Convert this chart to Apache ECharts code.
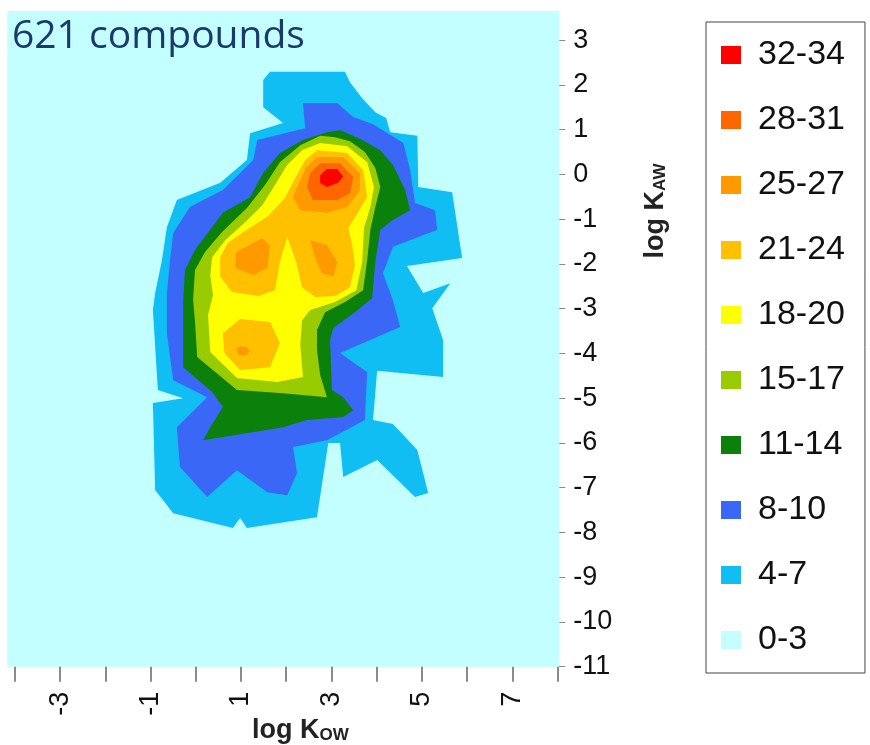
<!DOCTYPE html>
<html><head><meta charset="utf-8">
<script src="https://cdn.jsdelivr.net/npm/echarts@6/dist/echarts.min.js"></script>
<style>html,body{margin:0;padding:0;background:#fff}#c{width:870px;height:745px}</style>
</head><body><div id="c"></div>
<script>
// ---- data (values in axis units: x = log Kow, y = log Kaw) ----
const levelNames = ['32-34','28-31','25-27','21-24','18-20','15-17','11-14','8-10','4-7','0-3'];
const levelColors = ['#FF0000','#FF6600','#FF9900','#FFC000','#FFFF00','#99CC00','#0B800B','#3A67F5','#10BEF4','#C4FFFF'];
const xTickValues = [-4,-3,-2,-1,0,1,2,3,4,5,6,7,8];
const xLabelValues = [-3,-1,1,3,5,7];
const yTickValues = [-11,-10,-9,-8,-7,-6,-5,-4,-3,-2,-1,0,1,2,3];

const band4to7 = [[[1.49,2.11],[1.64,2.29],[3.30,2.29],[3.41,2.06],[3.68,1.70],[3.97,1.39],[4.21,1.26],[4.30,0.94],[4.90,0.86],[4.92,-0.28],[5.67,-0.40],[5.89,-1.87],[4.67,-2.05],[5.03,-2.65],[5.63,-2.43],[5.23,-2.99],[5.47,-3.70],[5.47,-4.53],[4.01,-4.39],[3.92,-5.49],[4.36,-5.58],[4.90,-6.16],[5.14,-7.12],[4.85,-7.21],[4.01,-6.38],[3.26,-6.76],[3.19,-6.00],[2.93,-6.00],[2.68,-7.66],[1.13,-7.90],[0.98,-7.68],[0.82,-7.90],[-0.50,-7.57],[-0.90,-7.05],[-0.95,-5.11],[-0.28,-5.00],[-0.84,-4.82],[-0.95,-3.03],[-0.90,-2.65],[-0.75,-1.92],[-0.64,-1.18],[-0.42,-0.57],[0.54,-0.19],[1.13,0.32],[1.20,0.92],[1.93,1.15],[1.49,1.50]]];
const band8to10 = [[[2.37,1.59],[3.13,1.59],[3.48,1.28],[3.92,1.12],[4.59,0.70],[4.74,0.10],[4.85,-0.64],[5.29,-0.80],[5.34,-1.24],[4.36,-1.62],[4.14,-2.21],[4.36,-2.81],[4.52,-3.41],[3.19,-3.99],[3.79,-4.42],[3.74,-5.49],[2.90,-5.94],[2.15,-6.09],[2.24,-6.67],[2.02,-7.17],[1.58,-7.10],[0.91,-6.61],[0.25,-7.21],[-0.35,-6.54],[-0.42,-5.65],[0.25,-4.98],[-0.50,-4.60],[-0.64,-3.55],[-0.64,-2.65],[-0.57,-1.92],[-0.50,-1.31],[-0.13,-0.73],[0.60,-0.35],[1.27,0.32],[1.36,0.77],[2.42,1.03]]];
const band11to14 = [[[2.90,0.94],[3.19,0.99],[3.68,0.77],[4.08,0.54],[4.36,0.21],[4.63,-0.35],[4.74,-0.80],[4.36,-1.02],[4.08,-1.24],[3.97,-1.96],[3.90,-2.76],[3.52,-3.08],[3.04,-3.43],[2.97,-3.70],[3.01,-4.82],[3.26,-4.98],[3.48,-5.27],[3.26,-5.42],[2.46,-5.49],[1.93,-5.65],[0.16,-5.94],[0.32,-5.65],[0.60,-5.20],[0.36,-4.86],[-0.28,-4.31],[-0.28,-2.81],[-0.24,-2.14],[-0.02,-1.69],[0.60,-0.86],[1.20,-0.51],[1.49,0.03],[1.86,0.48],[2.37,0.77]]];
const band15to17 = [[[2.75,0.86],[3.08,0.83],[3.41,0.74],[3.74,0.50],[3.97,0.14],[4.08,-0.28],[3.97,-0.73],[3.86,-1.24],[3.79,-1.92],[3.70,-2.59],[3.30,-2.85],[2.86,-3.08],[2.68,-3.48],[2.68,-3.93],[2.75,-4.48],[2.90,-4.98],[1.93,-4.89],[0.91,-4.82],[0.03,-4.08],[-0.02,-3.26],[-0.06,-2.81],[-0.02,-2.14],[0.20,-1.74],[0.58,-1.29],[1.13,-0.75],[1.53,-0.24],[1.86,0.27],[2.31,0.65]]];
const band18to20 = [[[2.75,0.70],[3.35,0.63],[3.79,0.27],[3.94,-0.28],[3.86,-0.73],[3.72,-1.20],[3.68,-1.96],[3.55,-2.59],[3.08,-2.85],[2.53,-3.03],[2.35,-3.26],[2.31,-3.81],[2.37,-4.53],[1.80,-4.64],[0.91,-4.55],[0.32,-3.97],[0.27,-3.14],[0.38,-2.70],[0.32,-2.25],[0.36,-1.85],[0.65,-1.47],[1.09,-1.07],[1.47,-0.69],[1.75,-0.24],[2.02,0.21],[2.35,0.54]]];
const band21to24 = [
  [[2.68,0.54],[3.35,0.48],[3.70,0.10],[3.79,-0.51],[3.55,-0.91],[3.37,-1.20],[3.46,-1.58],[3.52,-2.03],[3.41,-2.52],[3.08,-2.72],[2.64,-2.74],[2.35,-2.52],[2.22,-1.96],[2.02,-1.40],[1.86,-1.96],[1.75,-2.59],[1.38,-2.72],[0.80,-2.63],[0.54,-2.29],[0.54,-1.85],[0.71,-1.53],[1.13,-1.24],[1.60,-0.93],[1.97,-0.53],[2.20,-0.08],[2.42,0.32]],
  [[0.60,-3.55],[0.98,-3.23],[1.64,-3.30],[1.86,-3.77],[1.64,-4.31],[0.98,-4.37],[0.63,-3.99]]
];
const band25to27 = [
  [[2.68,0.39],[3.26,0.39],[3.63,0.03],[3.63,-0.35],[3.35,-0.73],[2.90,-0.86],[2.31,-0.80],[2.15,-0.51],[2.31,-0.13],[2.44,0.16]],
  [[0.89,-1.74],[1.47,-1.42],[1.64,-1.60],[1.58,-2.09],[1.27,-2.25],[0.87,-2.09]],
  [[2.53,-1.47],[2.90,-1.58],[3.13,-1.96],[3.04,-2.29],[2.79,-2.21],[2.64,-1.87]],
  [[0.89,-3.90],[0.98,-3.84],[1.13,-3.86],[1.20,-3.95],[1.11,-4.04],[0.96,-4.04]]
];
const band28to31 = [[[2.53,0.03],[2.75,0.25],[3.19,0.25],[3.48,-0.06],[3.41,-0.42],[3.13,-0.57],[2.59,-0.57],[2.46,-0.28]]];
const band32to34 = [[[2.75,-0.02],[2.90,0.12],[3.13,0.12],[3.26,-0.04],[3.15,-0.19],[2.90,-0.28],[2.75,-0.19]]];

// drawing order: lowest band first
const bands = [
  {name:'0-3', polys:[]},
  {name:'4-7', polys:band4to7},
  {name:'8-10', polys:band8to10},
  {name:'11-14', polys:band11to14},
  {name:'15-17', polys:band15to17},
  {name:'18-20', polys:band18to20},
  {name:'21-24', polys:band21to24},
  {name:'25-27', polys:band25to27},
  {name:'28-31', polys:band28to31},
  {name:'32-34', polys:band32to34}
];

const colorOf = n => levelColors[levelNames.indexOf(n)];
const series = bands.map(b => {
  const color = colorOf(b.name);
  return {
    type:'custom', name:b.name, coordinateSystem:'cartesian2d',
    itemStyle:{color:color}, silent:true, animation:false,
    data: b.polys.map((p,i) => [p[0][0], p[0][1], i]),
    encode:{x:0, y:1},
    renderItem:(params, api) => {
      const pts = b.polys[params.dataIndex].map(pt => api.coord(pt));
      return {type:'polygon', shape:{points:pts}, style:{fill:color}};
    }
  };
});

const chart = echarts.init(document.getElementById('c'), null, {renderer:'canvas'});
const FONT = 'Liberation Sans, Arial, sans-serif';
chart.setOption({
  animation:false,
  backgroundColor:'#ffffff',
  title:{text:'621 compounds', left:12, top:17, padding:0,
    textStyle:{fontSize:39, fontWeight:'normal', color:'#1B3A6B', fontFamily:'Open Sans'}},
  grid:{left:7.3, right:310.7, top:11, bottom:78.3, show:true, backgroundColor:'#C4FFFF', borderWidth:0, outerBoundsMode:'none'},
  xAxis:{type:'value', min:-4.17, max:8.04,
    axisLine:{show:false, onZero:false},
    axisTick:{show:true, customValues:xTickValues, length:15, lineStyle:{color:'#8a8a8a', width:2}},
    axisLabel:{customValues:xLabelValues, rotate:90, fontSize:27, color:'#111', fontFamily:FONT, margin:25},
    splitLine:{show:false}},
  yAxis:{type:'value', position:'right', min:-11, max:3.65,
    axisLine:{show:false, onZero:false},
    axisTick:{show:true, customValues:yTickValues, length:6, lineStyle:{color:'#8a8a8a', width:1}},
    axisLabel:{customValues:yTickValues, fontSize:27, color:'#111', fontFamily:FONT, margin:14},
    splitLine:{show:false}},
  legend:{orient:'vertical', left:706, top:22, data:levelNames, selectedMode:false,
    icon:'rect', itemWidth:20, itemHeight:18, itemGap:31,
    padding:[16,20,16,15], borderColor:'#444', borderWidth:1,
    textStyle:{fontSize:34, color:'#111', fontFamily:FONT, padding:[0,0,0,12]}},
  graphic:[
    {type:'text', left:252, top:717, silent:true,
      style:{text:'{a|log K}{b|OW}', rich:{
        a:{fontSize:27, fontWeight:'bold', fontFamily:FONT, fill:'#222', lineHeight:28, verticalAlign:'bottom'},
        b:{fontSize:17, fontWeight:'bold', fontFamily:FONT, fill:'#222', lineHeight:16, verticalAlign:'bottom'}}}},
    {type:'text', x:655, y:211, rotation:Math.PI/2, silent:true,
      style:{text:'{a|log K}{b|AW}', align:'center', verticalAlign:'middle', rich:{
        a:{fontSize:27, fontWeight:'bold', fontFamily:FONT, fill:'#222', lineHeight:28, verticalAlign:'bottom'},
        b:{fontSize:17, fontWeight:'bold', fontFamily:FONT, fill:'#222', lineHeight:20, verticalAlign:'bottom'}}}}
  ],
  series:series
});
</script></body></html>
